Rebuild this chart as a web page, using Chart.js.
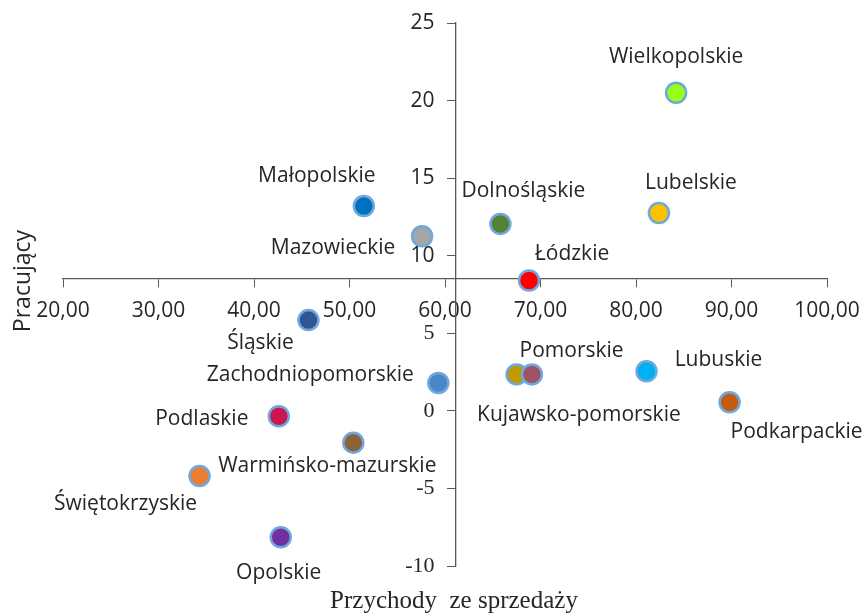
<!DOCTYPE html>
<html>
<head>
<meta charset="utf-8">
<script src="https://cdn.jsdelivr.net/npm/chart.js@4"></script>
<style>
  html, body { margin: 0; padding: 0; background: #fff; }
  #wrap { width: 867px; height: 615px; }
</style>
</head>
<body>
<div id="wrap"><canvas id="myChart"></canvas></div>
<script>
// wojewodztwa
const regions = ['Wielkopolskie', 'Lubelskie', 'Dolnośląskie', 'Mazowieckie', 'Małopolskie', 'Łódzkie',
    'Śląskie', 'Zachodniopomorskie', 'Podlaskie', 'Warmińsko-mazurskie', 'Świętokrzyskie', 'Opolskie',
    'Pomorskie', 'Kujawsko-pomorskie', 'Lubuskie', 'Podkarpackie'];
const sales = [84.2, 82.4, 65.8, 57.6, 51.5, 68.8, 45.7, 59.3, 42.6, 50.4, 34.3, 42.8, 67.5, 69.1, 81.1, 89.8];
const workers = [20.5, 12.75, 12.05, 11.25, 13.2, 8.4, 5.85, 1.8, -0.35, -2.05, -4.2, -8.15, 2.35, 2.35, 2.55, 0.55];
const colors = ['#99FF1A', '#FFC000', '#548235', '#A5A5A5', '#0070C0', '#FF0000',
    '#2F5597', '#4A86C8', '#CC1650', '#8C6239', '#ED7D31', '#7030A0',
    '#C09A00', '#9E5466', '#00B0F0', '#C55A11'];
// przesuniecie srodka etykiety wzgledem punktu (px)
const labelOffsets = [[0, -36], [32, -30], [23, -33], [-89, 12], [-47, -30], [43, -27],
    [-48, 23], [-128, -8], [-77, 3], [-26, 23], [-74, 28], [-2, 36],
    [55, -23], [47, 41], [72, -11], [67, 30]];

const xTicks = { min: 20, max: 100, step: 10 };
const yTicks = { min: -10, max: 25, step: 5 };
const xCross = 8.5;   // os X przecina Y w tym miejscu
const yCross = 61.1;  // os Y przecina X w tym miejscu

const sansFont = '"Open Sans", sans-serif';
const serifFont = '"Liberation Serif", "Times New Roman", serif';

const pointLabels = {
    id: 'pointLabels',
    afterDatasetsDraw(chart) {
        const ctx = chart.ctx;
        const meta = chart.getDatasetMeta(0);
        ctx.save();
        ctx.font = '21px ' + sansFont;
        ctx.fillStyle = '#262626';
        ctx.textAlign = 'center';
        ctx.textBaseline = 'middle';
        meta.data.forEach((pt, i) => {
            const off = labelOffsets[i];
            ctx.fillText(regions[i], pt.x + off[0], pt.y + off[1]);
        });
        ctx.restore();
    }
};

// etykiety osi Y rysowane recznie (przy osi w srodku Chart.js kladzie je na linii)
const yLabels = {
    id: 'yLabels',
    afterDraw(chart) {
        const ctx = chart.ctx;
        const ys = chart.scales.y;
        const xs = chart.scales.x;
        const axisX = xs.getPixelForValue(yCross);
        ctx.save();
        ctx.fillStyle = '#262626';
        ctx.textAlign = 'right';
        ctx.textBaseline = 'middle';
        ys.ticks.forEach(t => {
            ctx.font = t.value >= 10 ? '21px ' + sansFont : '22px ' + serifFont;
            ctx.fillText(String(t.value), axisX - 21, ys.getPixelForValue(t.value));
        });
        ctx.restore();
    }
};

const axisTitles = {
    id: 'axisTitles',
    afterDraw(chart) {
        const ctx = chart.ctx;
        ctx.save();
        ctx.fillStyle = '#262626';
        ctx.textAlign = 'center';
        ctx.textBaseline = 'middle';
        ctx.font = '25px ' + serifFont;
        ctx.fillText('Przychody  ze sprzedaży', 454, 601);
        ctx.translate(23, 281);
        ctx.rotate(-Math.PI / 2);
        ctx.font = '23px ' + sansFont;
        ctx.fillText('Pracujący', 0, 0);
        ctx.restore();
    }
};

const noPad = s => { s.paddingLeft = 0; s.paddingRight = 0; s.paddingTop = 0; s.paddingBottom = 0; };

const ctx = document.getElementById('myChart').getContext('2d');
const myChart = new Chart(ctx, {
    type: 'scatter',
    data: {
        datasets: [{
            label: 'Województwa',
            data: sales.map((s, i) => ({ x: s, y: workers[i] })),
            backgroundColor: colors,
            borderColor: '#6FA8DC',
            borderWidth: 2.5,
            pointRadius: 10,
            pointHoverRadius: 10
        }]
    },
    plugins: [pointLabels, yLabels, axisTitles],
    options: {
        responsive: true,
        maintainAspectRatio: false,
        animation: false,
        layout: { padding: { left: 63, right: 40, top: 23, bottom: 49 } },
        plugins: {
            legend: { display: false },
            tooltip: { enabled: false }
        },
        scales: {
            x: {
                type: 'linear',
                position: { y: xCross },
                min: xTicks.min,
                max: xTicks.max,
                afterFit: noPad,
                ticks: {
                    stepSize: xTicks.step,
                    padding: 11,
                    color: '#262626',
                    font: { family: sansFont, size: 21 },
                    callback: v => v.toFixed(2).replace('.', ',')
                },
                grid: { drawOnChartArea: false, drawTicks: true, tickLength: 8, color: '#595959' },
                border: { display: true, color: '#595959', width: 1.3 }
            },
            y: {
                type: 'linear',
                position: { x: yCross },
                min: yTicks.min,
                max: yTicks.max,
                afterFit: noPad,
                ticks: {
                    stepSize: yTicks.step,
                    color: 'rgba(0,0,0,0)',
                    font: { family: sansFont, size: 21 }
                },
                grid: { drawOnChartArea: false, drawTicks: true, tickLength: 8, color: '#595959' },
                border: { display: true, color: '#595959', width: 1.3 }
            }
        }
    }
});
</script>
</body>
</html>
